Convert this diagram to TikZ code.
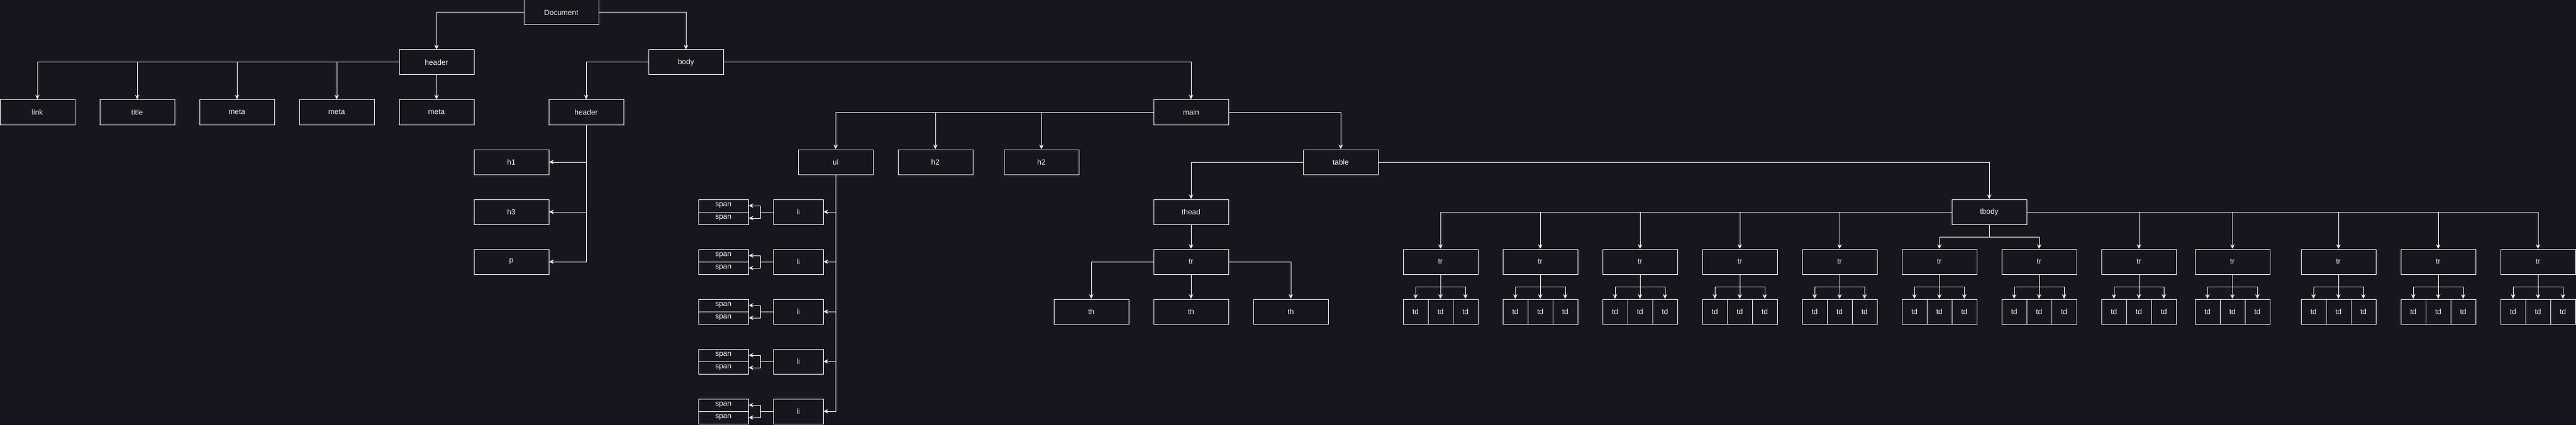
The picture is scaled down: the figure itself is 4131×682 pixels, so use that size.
\documentclass[tikz,border=0pt]{standalone}
\usepackage{fontspec}
\setmainfont{Liberation Sans}
\usetikzlibrary{arrows.meta}
\definecolor{bg}{HTML}{18151E}
\definecolor{fg}{HTML}{F0F0F0}
\tikzstyle{box}=[draw=fg,fill=bg,line width=1pt,text=fg,inner sep=0pt,minimum width=120pt,minimum height=40pt,font=\fontsize{12}{14}\selectfont]
\tikzstyle{libox}=[box,minimum width=80pt]
\tikzstyle{spanbox}=[box,minimum width=80pt,minimum height=20pt]
\tikzstyle{tdbox}=[box,minimum width=40pt]
\tikzstyle{edge}=[draw=fg,line width=1pt,-{Stealth[length=7.5pt,width=7pt,inset=2.5pt]}]

\begin{document}
\begin{tikzpicture}[x=1pt,y=-1pt]
\useasboundingbox[fill=bg] (0,0) rectangle (4131,682);

\node[box] (doc) at (900,20) {Document};
\node[box] (head) at (700,100) {header};
\node[box] (body) at (1100,100) {body};
\draw[edge] (doc.west) -| (head.north);
\draw[edge] (doc.east) -| (body.north);

\node[box] (link) at (60,180) {link};
\node[box] (title) at (220,180) {title};
\node[box] (metaa) at (380,180) {meta};
\node[box] (metab) at (540,180) {meta};
\node[box] (metac) at (700,180) {meta};
\draw[edge] (head.west) -| (link.north);
\draw[edge] (head.west) -| (title.north);
\draw[edge] (head.west) -| (metaa.north);
\draw[edge] (head.west) -| (metab.north);
\draw[edge] (head.south) -- (metac.north);

\node[box] (bhead) at (940,180) {header};
\node[box] (main) at (1910,180) {main};
\draw[edge] (body.west) -| (bhead.north);
\draw[edge] (body.east) -| (main.north);

\node[box] (hone) at (820,260) {h1};
\node[box] (hthree) at (820,340) {h3};
\node[box] (para) at (820,420) {p};
\draw[edge] (bhead.south) |- (hone.east);
\draw[edge] (bhead.south) |- (hthree.east);
\draw[edge] (bhead.south) |- (para.east);

\node[box] (ul) at (1340,260) {ul};
\node[box] (htwoa) at (1500,260) {h2};
\node[box] (htwob) at (1670,260) {h2};
\node[box] (table) at (2150,260) {table};
\draw[edge] (main.west) -| (ul.north);
\draw[edge] (main.west) -| (htwoa.north);
\draw[edge] (main.west) -| (htwob.north);
\draw[edge] (main.east) -| (table.north);

\node[libox] (lia) at (1280,340) {li};
\node[spanbox] (spaa) at (1160,330) {span};
\node[spanbox] (spab) at (1160,350) {span};
\node[libox] (lib) at (1280,420) {li};
\node[spanbox] (spba) at (1160,410) {span};
\node[spanbox] (spbb) at (1160,430) {span};
\node[libox] (lic) at (1280,500) {li};
\node[spanbox] (spca) at (1160,490) {span};
\node[spanbox] (spcb) at (1160,510) {span};
\node[libox] (lid) at (1280,580) {li};
\node[spanbox] (spda) at (1160,570) {span};
\node[spanbox] (spdb) at (1160,590) {span};
\node[libox] (lie) at (1280,660) {li};
\node[spanbox] (spea) at (1160,650) {span};
\node[spanbox] (speb) at (1160,670) {span};

\draw[edge] (ul.south) |- (lia.east);
\draw[edge] (ul.south) |- (lib.east);
\draw[edge] (ul.south) |- (lic.east);
\draw[edge] (ul.south) |- (lid.east);
\draw[edge] (ul.south) |- (lie.east);

\draw[edge] (lia.west) -- ++(-20,0) |- (spaa.east);
\draw[edge] (lia.west) -- ++(-20,0) |- (spab.east);
\draw[edge] (lib.west) -- ++(-20,0) |- (spba.east);
\draw[edge] (lib.west) -- ++(-20,0) |- (spbb.east);
\draw[edge] (lic.west) -- ++(-20,0) |- (spca.east);
\draw[edge] (lic.west) -- ++(-20,0) |- (spcb.east);
\draw[edge] (lid.west) -- ++(-20,0) |- (spda.east);
\draw[edge] (lid.west) -- ++(-20,0) |- (spdb.east);
\draw[edge] (lie.west) -- ++(-20,0) |- (spea.east);
\draw[edge] (lie.west) -- ++(-20,0) |- (speb.east);

\node[box] (thead) at (1910,340) {thead};
\node[box] (tbody) at (3190,340) {tbody};
\draw[edge] (table.west) -| (thead.north);
\draw[edge] (table.east) -| (tbody.north);

\node[box] (htr) at (1910,420) {tr};
\node[box] (tha) at (1750,500) {th};
\node[box] (thb) at (1910,500) {th};
\node[box] (thc) at (2070,500) {th};
\draw[edge] (thead.south) -- (htr.north);
\draw[edge] (htr.west) -| (tha.north);
\draw[edge] (htr.south) -- (thb.north);
\draw[edge] (htr.east) -| (thc.north);

\node[box] (tra) at (2310,420) {tr};
\node[tdbox] (tdaa) at (2270,500) {td}; \node[tdbox] (tdab) at (2310,500) {td}; \node[tdbox] (tdac) at (2350,500) {td};
\node[box] (trb) at (2470,420) {tr};
\node[tdbox] (tdba) at (2430,500) {td}; \node[tdbox] (tdbb) at (2470,500) {td}; \node[tdbox] (tdbc) at (2510,500) {td};
\node[box] (trc) at (2630,420) {tr};
\node[tdbox] (tdca) at (2590,500) {td}; \node[tdbox] (tdcb) at (2630,500) {td}; \node[tdbox] (tdcc) at (2670,500) {td};
\node[box] (trd) at (2790,420) {tr};
\node[tdbox] (tdda) at (2750,500) {td}; \node[tdbox] (tddb) at (2790,500) {td}; \node[tdbox] (tddc) at (2830,500) {td};
\node[box] (tre) at (2950,420) {tr};
\node[tdbox] (tdea) at (2910,500) {td}; \node[tdbox] (tdeb) at (2950,500) {td}; \node[tdbox] (tdec) at (2990,500) {td};
\node[box] (trf) at (3110,420) {tr};
\node[tdbox] (tdfa) at (3070,500) {td}; \node[tdbox] (tdfb) at (3110,500) {td}; \node[tdbox] (tdfc) at (3150,500) {td};
\node[box] (trg) at (3270,420) {tr};
\node[tdbox] (tdga) at (3230,500) {td}; \node[tdbox] (tdgb) at (3270,500) {td}; \node[tdbox] (tdgc) at (3310,500) {td};
\node[box] (trh) at (3430,420) {tr};
\node[tdbox] (tdha) at (3390,500) {td}; \node[tdbox] (tdhb) at (3430,500) {td}; \node[tdbox] (tdhc) at (3470,500) {td};
\node[box] (tri) at (3580,420) {tr};
\node[tdbox] (tdia) at (3540,500) {td}; \node[tdbox] (tdib) at (3580,500) {td}; \node[tdbox] (tdic) at (3620,500) {td};
\node[box] (trj) at (3750,420) {tr};
\node[tdbox] (tdja) at (3710,500) {td}; \node[tdbox] (tdjb) at (3750,500) {td}; \node[tdbox] (tdjc) at (3790,500) {td};
\node[box] (trk) at (3910,420) {tr};
\node[tdbox] (tdka) at (3870,500) {td}; \node[tdbox] (tdkb) at (3910,500) {td}; \node[tdbox] (tdkc) at (3950,500) {td};
\node[box] (trl) at (4070,420) {tr};
\node[tdbox] (tdla) at (4030,500) {td}; \node[tdbox] (tdlb) at (4070,500) {td}; \node[tdbox] (tdlc) at (4110,500) {td};

\draw[edge] (tbody.west) -| (tra.north);
\draw[edge] (tbody.west) -| (trb.north);
\draw[edge] (tbody.west) -| (trc.north);
\draw[edge] (tbody.west) -| (trd.north);
\draw[edge] (tbody.west) -| (tre.north);
\draw[edge] (tbody.south) -- ++(0,20) -| (trf.north);
\draw[edge] (tbody.south) -- ++(0,20) -| (trg.north);
\draw[edge] (tbody.east) -| (trh.north);
\draw[edge] (tbody.east) -| (tri.north);
\draw[edge] (tbody.east) -| (trj.north);
\draw[edge] (tbody.east) -| (trk.north);
\draw[edge] (tbody.east) -| (trl.north);

\draw[edge] (tra.south) -- ++(0,20) -| (tdaa.north); \draw[edge] (tra.south) -- (tdab.north); \draw[edge] (tra.south) -- ++(0,20) -| (tdac.north);
\draw[edge] (trb.south) -- ++(0,20) -| (tdba.north); \draw[edge] (trb.south) -- (tdbb.north); \draw[edge] (trb.south) -- ++(0,20) -| (tdbc.north);
\draw[edge] (trc.south) -- ++(0,20) -| (tdca.north); \draw[edge] (trc.south) -- (tdcb.north); \draw[edge] (trc.south) -- ++(0,20) -| (tdcc.north);
\draw[edge] (trd.south) -- ++(0,20) -| (tdda.north); \draw[edge] (trd.south) -- (tddb.north); \draw[edge] (trd.south) -- ++(0,20) -| (tddc.north);
\draw[edge] (tre.south) -- ++(0,20) -| (tdea.north); \draw[edge] (tre.south) -- (tdeb.north); \draw[edge] (tre.south) -- ++(0,20) -| (tdec.north);
\draw[edge] (trf.south) -- ++(0,20) -| (tdfa.north); \draw[edge] (trf.south) -- (tdfb.north); \draw[edge] (trf.south) -- ++(0,20) -| (tdfc.north);
\draw[edge] (trg.south) -- ++(0,20) -| (tdga.north); \draw[edge] (trg.south) -- (tdgb.north); \draw[edge] (trg.south) -- ++(0,20) -| (tdgc.north);
\draw[edge] (trh.south) -- ++(0,20) -| (tdha.north); \draw[edge] (trh.south) -- (tdhb.north); \draw[edge] (trh.south) -- ++(0,20) -| (tdhc.north);
\draw[edge] (tri.south) -- ++(0,20) -| (tdia.north); \draw[edge] (tri.south) -- (tdib.north); \draw[edge] (tri.south) -- ++(0,20) -| (tdic.north);
\draw[edge] (trj.south) -- ++(0,20) -| (tdja.north); \draw[edge] (trj.south) -- (tdjb.north); \draw[edge] (trj.south) -- ++(0,20) -| (tdjc.north);
\draw[edge] (trk.south) -- ++(0,20) -| (tdka.north); \draw[edge] (trk.south) -- (tdkb.north); \draw[edge] (trk.south) -- ++(0,20) -| (tdkc.north);
\draw[edge] (trl.south) -- ++(0,20) -| (tdla.north); \draw[edge] (trl.south) -- (tdlb.north); \draw[edge] (trl.south) -- ++(0,20) -| (tdlc.north);

\end{tikzpicture}
\end{document}
